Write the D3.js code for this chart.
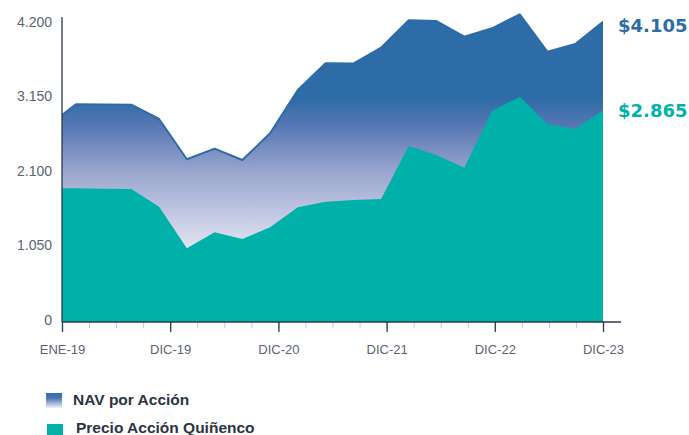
<!DOCTYPE html>
<html>
<head>
<meta charset="utf-8">
<script src="https://cdn.jsdelivr.net/npm/d3@7"></script>
<style>
	body { margin: 0; background: #fff; }
	svg { display: block; font-family: 'Liberation Sans', Arial, sans-serif; }
</style>
</head>
<body>
<div id="chart"><svg width="689" height="435"></svg></div>
<script>
// quarterly closes; DIC-18 sits just left of the axis and gets clipped
var periods = ['DIC-18', 'MAR-19', 'JUN-19', 'SEP-19', 'DIC-19', 'MAR-20', 'JUN-20', 'SEP-20', 'DIC-20',
	'MAR-21', 'JUN-21', 'SEP-21', 'DIC-21', 'MAR-22', 'JUN-22', 'SEP-22', 'DIC-22',
	'MAR-23', 'JUN-23', 'SEP-23', 'DIC-23'];
var navValues = [2770, 3068, 3066, 3063, 2861, 2293, 2443, 2283, 2660, 3270, 3646,
	3643, 3866, 4252, 4242, 4021, 4139, 4337, 3808, 3918, 4232];
var priceValues = [1884, 1884, 1879, 1875, 1625, 1039, 1264, 1170, 1335, 1617, 1696,
	1719, 1734, 2481, 2354, 2175, 2974, 3174, 2791, 2720, 2984];
var lastReported = [4105, 2865];
var seriesNames = ['NAV por Acción', 'Precio Acción Quiñenco'];
var yTicks = [0, 1050, 2100, 3150, 4200];
var xTickLabels = ['ENE-19', 'DIC-19', 'DIC-20', 'DIC-21', 'DIC-22', 'DIC-23'];

var navColor = '#2e6ca7';
var priceColor = '#00b1a9';
var axisColor = '#2c3a4a';
var labelColor = '#5a6472';

var esCL = d3.formatLocale({ decimal: ',', thousands: '.', grouping: [3], currency: ['$', ''] });
var fmtTick = esCL.format(',');
var fmtMoney = esCL.format('$,');

var plotLeft = 62, plotRight = 603, plotBottom = 322, plotTop = 24;

var svg = d3.select('#chart > svg');

// data index -> px (first quarter lands half a step right of the axis)
var x = d3.scaleLinear()
	.domain([0.5, periods.length - 1])
	.range([plotLeft, plotRight]);
// quarters counted from ENE-19, used for the axis ticks
var xAxisScale = d3.scaleLinear()
	.domain([0, 20])
	.range([plotLeft, plotRight]);
var y = d3.scaleLinear()
	.domain([0, 4200])
	.range([plotBottom, plotTop]);

var defs = svg.append('defs');
defs.append('clipPath').attr('id', 'plotClip')
	.append('rect')
	.attr('x', plotLeft).attr('y', 0)
	.attr('width', plotRight - plotLeft).attr('height', plotBottom);

var grad = defs.append('linearGradient')
	.attr('id', 'navGrad')
	.attr('gradientUnits', 'userSpaceOnUse')
	.attr('x1', 0).attr('x2', 0)
	.attr('y1', y(4200)).attr('y2', y(0));
[[0, navColor], [0.25, navColor], [0.34, '#5677b3'], [0.5, '#9ba7cf'], [0.75, '#e2e3f1'], [1, '#ffffff']]
	.forEach(function(s) {
		grad.append('stop').attr('offset', s[0]).attr('stop-color', s[1]);
	});

var legGrad = defs.append('linearGradient')
	.attr('id', 'legGrad')
	.attr('x1', 0).attr('x2', 0).attr('y1', 0).attr('y2', 1);
legGrad.append('stop').attr('offset', 0).attr('stop-color', navColor);
legGrad.append('stop').attr('offset', 0.35).attr('stop-color', '#4f74b1');
legGrad.append('stop').attr('offset', 1).attr('stop-color', '#f2f2f8');

var plot = svg.append('g').attr('clip-path', 'url(#plotClip)');

var area = d3.area()
	.x(function(d, i) { return x(i) })
	.y0(y(0))
	.y1(function(d) { return y(d) });
var navLine = d3.line()
	.x(function(d, i) { return x(i) })
	.y(function(d) { return y(d) });

// NAV area with its top edge
plot.append('path')
	.datum(navValues)
	.attr('d', area)
	.attr('fill', 'url(#navGrad)');
plot.append('path')
	.datum(navValues)
	.attr('d', navLine)
	.attr('fill', 'none')
	.attr('stroke', navColor)
	.attr('stroke-width', 2)
	.attr('stroke-linejoin', 'round');

// share price area
plot.append('path')
	.datum(priceValues)
	.attr('d', area)
	.attr('fill', priceColor);

// y axis
var yAxis = svg.append('g')
	.attr('class', 'y axis')
	.attr('transform', 'translate(' + plotLeft + ',0)')
	.call(d3.axisLeft(y).tickValues(yTicks).tickSize(0).tickPadding(10).tickFormat(fmtTick));
yAxis.select('.domain').remove();
yAxis.selectAll('text')
	.attr('y', -2)
	.style('font-size', '14px')
	.style('font-family', "'Liberation Sans', Arial, sans-serif")
	.attr('fill', labelColor);
svg.append('line')
	.attr('x1', plotLeft).attr('x2', plotLeft)
	.attr('y1', 17).attr('y2', plotBottom)
	.attr('stroke', axisColor)
	.attr('stroke-width', 1.3);

// x axis: minor quarterly ticks, then major yearly ones
var minorAxis = svg.append('g')
	.attr('transform', 'translate(0,' + plotBottom + ')')
	.call(d3.axisBottom(xAxisScale).tickValues(d3.range(0, 21)).tickSize(6).tickFormat(''));
minorAxis.select('.domain').remove();
minorAxis.selectAll('line').attr('stroke', '#c3c8ce');

var majorAxis = svg.append('g')
	.attr('transform', 'translate(0,' + plotBottom + ')')
	.call(d3.axisBottom(xAxisScale)
		.tickValues(d3.range(0, 21, 4))
		.tickSize(10)
		.tickPadding(13)
		.tickFormat(function(d, i) { return xTickLabels[i] }));
majorAxis.select('.domain').remove();
majorAxis.selectAll('line')
	.attr('stroke', axisColor)
	.attr('stroke-width', 1.3);
majorAxis.selectAll('text')
	.style('font-size', '13px')
	.style('font-family', "'Liberation Sans', Arial, sans-serif")
	.attr('fill', labelColor);

svg.append('line')
	.attr('x1', plotLeft).attr('x2', 621)
	.attr('y1', plotBottom).attr('y2', plotBottom)
	.attr('stroke', axisColor)
	.attr('stroke-width', 1.3);

// end-of-period values
var endSeries = [
	{ value: navValues[navValues.length - 1], label: fmtMoney(lastReported[0]), color: navColor, dy: 5 },
	{ value: priceValues[priceValues.length - 1], label: fmtMoney(lastReported[1]), color: priceColor, dy: 2 }
];
svg.selectAll('.end-label')
	.data(endSeries)
	.enter()
	.append('text')
	.attr('class', 'end-label')
	.attr('x', 618)
	.attr('y', function(d) { return y(d.value) + d.dy })
	.attr('dominant-baseline', 'middle')
	.style('font-family', "'DejaVu Sans', sans-serif")
	.style('font-weight', 'bold')
	.style('font-size', '18px')
	.attr('fill', function(d) { return d.color })
	.text(function(d) { return d.label });

// legend
var legend = svg.append('g').attr('class', 'legend');
var legendItems = [
	{ name: seriesNames[0], fill: 'url(#legGrad)', sx: 46, sy: 393, tx: 73, ty: 401 },
	{ name: seriesNames[1], fill: priceColor, sx: 47, sy: 424, tx: 76, ty: 429 }
];
var item = legend.selectAll('g')
	.data(legendItems)
	.enter()
	.append('g');
item.append('rect')
	.attr('x', function(d) { return d.sx })
	.attr('y', function(d) { return d.sy })
	.attr('width', 16)
	.attr('height', 15)
	.attr('fill', function(d) { return d.fill });
item.append('text')
	.attr('x', function(d) { return d.tx })
	.attr('y', function(d) { return d.ty })
	.attr('dominant-baseline', 'middle')
	.style('font-size', '15.5px')
	.style('font-weight', 'bold')
	.attr('fill', '#2b3444')
	.text(function(d) { return d.name });
</script>
</body>
</html>
